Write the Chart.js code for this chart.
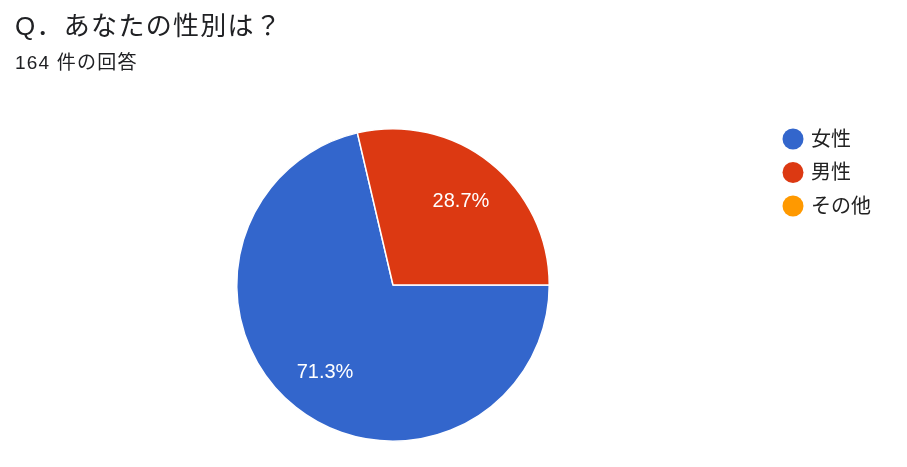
<!DOCTYPE html>
<html>
<head>
<meta charset="utf-8">
<script src="https://cdn.jsdelivr.net/npm/chart.js@4"></script>
<style>
html,body{margin:0;padding:0;background:#fff;}
canvas{display:block;}
</style>
</head>
<body>
<canvas id="c" width="907" height="467"></canvas>
<script>
const titleText = "Q．あなたの性別は？";
const subtitleText = "164 件の回答";
const categories = ["女性", "男性", "その他"];
const counts = [117, 47, 0];
const colors = ["#3366cc", "#dc3912", "#ff9900"];

const FONT = '"Liberation Sans", "Noto Sans CJK JP", sans-serif';

const overlay = {
  id: 'overlay',
  afterDraw(chart) {
    const ctx = chart.ctx;
    ctx.save();
    // Title
    ctx.fillStyle = '#202124';
    ctx.textBaseline = 'alphabetic';
    ctx.textAlign = 'left';
    ctx.font = '26px ' + FONT;
    ctx.letterSpacing = '1.3px';
    ctx.fillText(titleText, 15, 35);
    ctx.font = '19px ' + FONT;
    ctx.letterSpacing = '1.2px';
    ctx.fillText(subtitleText, 15, 69);
    ctx.letterSpacing = '0px';

    // Slice labels
    const meta = chart.getDatasetMeta(0);
    const data = chart.data.datasets[0].data;
    const total = data.reduce((a, b) => a + b, 0);
    ctx.fillStyle = '#ffffff';
    ctx.font = '20px ' + FONT;
    ctx.textAlign = 'center';
    ctx.textBaseline = 'middle';
    meta.data.forEach((arc, i) => {
      if (!data[i]) return;
      const p = arc.getProps(['x', 'y', 'startAngle', 'endAngle', 'outerRadius'], true);
      const mid = (p.startAngle + p.endAngle) / 2;
      const r = p.outerRadius * 0.70;
      const pct = (data[i] / total * 100).toFixed(1) + '%';
      ctx.fillText(pct, p.x + Math.cos(mid) * r, p.y + Math.sin(mid) * r + 2);
    });

    // Legend
    const lx = 793, ly0 = 139, step = 33.5;
    chart.data.labels.forEach((lab, i) => {
      const y = ly0 + i * step;
      ctx.beginPath();
      ctx.arc(lx, y, 10.5, 0, Math.PI * 2);
      ctx.fillStyle = chart.data.datasets[0].backgroundColor[i];
      ctx.fill();
      ctx.fillStyle = '#222222';
      ctx.font = '20px ' + FONT;
      ctx.textAlign = 'left';
      ctx.textBaseline = 'middle';
      ctx.fillText(lab, 811, y + 1);
    });
    ctx.restore();
  }
};

new Chart(document.getElementById('c'), {
  type: 'pie',
  data: {
    labels: categories,
    datasets: [{
      data: counts,
      backgroundColor: colors,
      borderColor: '#ffffff',
      borderWidth: 1.5
    }]
  },
  options: {
    responsive: false,
    animation: false,
    rotation: 90,
    layout: { padding: { left: 236, right: 357, top: 128, bottom: 25 } },
    plugins: {
      legend: { display: false },
      title: { display: false },
      tooltip: { enabled: false }
    }
  },
  plugins: [overlay]
});
</script>
</body>
</html>
